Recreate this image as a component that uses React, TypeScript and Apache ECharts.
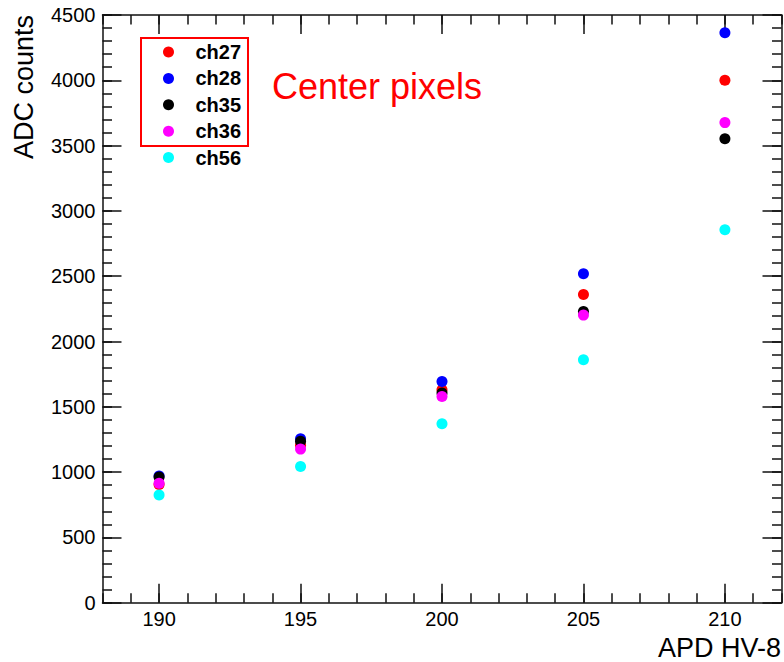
import React, { useEffect, useRef } from "react";
import * as echarts from "echarts";

// ---- data ----
const voltages = [190, 195, 200, 205, 210];
const ch27 = [905, 1205, 1630, 2360, 4000];
const ch28 = [970, 1255, 1694, 2518, 4364];
const ch35 = [962, 1236, 1605, 2229, 3553];
const ch36 = [915, 1176, 1579, 2202, 3676];
const ch56 = [824, 1043, 1370, 1860, 2855];

const seriesNames = ["ch27", "ch28", "ch35", "ch36", "ch56"];
const seriesValues = [ch27, ch28, ch35, ch36, ch56];
const seriesColors = ["#ff0000", "#0000ff", "#000000", "#ff00ff", "#00ffff"];

const xMin = 188;
const xMax = 212;
const xMajorTicks = [190, 195, 200, 205, 210];
const xMinorTicks = [188, 189, 190, 191, 192, 193, 194, 195, 196, 197, 198, 199, 200, 201, 202, 203, 204, 205, 206, 207, 208, 209, 210, 211, 212];
const yMin = 0;
const yMax = 4500;
const yMajorTicks = [0, 500, 1000, 1500, 2000, 2500, 3000, 3500, 4000, 4500];
const yMinorTicks: number[] = [];
for (let v = 0; v <= 4500; v += 100) yMinorTicks.push(v);

const xTitle = "APD HV-8";
const yTitle = "ADC counts";
const annotation = "Center pixels";

const FONT = "'Liberation Sans', Arial, Helvetica, sans-serif";
const lineStyle = { color: "#111", width: 1.5 };

const GRID = { left: 102.5, right: 2.5, top: 15, bottom: 59.3 };

const plain = (v: number) => String(v);

function xAxisDef(grid: number, pos: "bottom" | "top", ticks: number[], len: number, labels: boolean, line: boolean) {
  return {
    type: "value",
    gridIndex: grid,
    position: pos,
    min: xMin,
    max: xMax,
    axisLine: { show: line, onZero: false, lineStyle },
    axisTick: { show: true, inside: true, length: len, customValues: ticks, lineStyle },
    axisLabel: labels
      ? { show: true, customValues: ticks, formatter: plain, fontSize: 20, color: "#000", margin: 6, fontFamily: FONT }
      : { show: false },
    splitLine: { show: false },
  };
}

function yAxisDef(grid: number, pos: "left" | "right", ticks: number[], len: number, labels: boolean, line: boolean) {
  return {
    type: "value",
    gridIndex: grid,
    position: pos,
    min: yMin,
    max: yMax,
    axisLine: { show: line, onZero: false, lineStyle },
    axisTick: { show: true, inside: true, length: len, customValues: ticks, lineStyle },
    axisLabel: labels
      ? { show: true, customValues: ticks, formatter: plain, fontSize: 20, color: "#000", margin: 7, fontFamily: FONT }
      : { show: false },
    splitLine: { show: false },
  };
}

export default function App() {
  const ref = useRef<HTMLDivElement>(null);

  useEffect(() => {
    if (!ref.current) return;
    const chart = echarts.init(ref.current, undefined, { renderer: "svg" });
    const option = {
      animation: false,
      backgroundColor: "#ffffff",
      grid: [
        { ...GRID, containLabel: false },
        { ...GRID, containLabel: false },
      ],
      xAxis: [
        xAxisDef(0, "bottom", xMajorTicks, 19, true, true),
        xAxisDef(0, "top", xMajorTicks, 19, false, true),
        xAxisDef(1, "bottom", xMinorTicks, 9.5, false, false),
        xAxisDef(1, "top", xMinorTicks, 9.5, false, false),
      ],
      yAxis: [
        yAxisDef(0, "left", yMajorTicks, 19, true, true),
        yAxisDef(0, "right", yMajorTicks, 19, false, true),
        yAxisDef(1, "left", yMinorTicks, 9.5, false, false),
        yAxisDef(1, "right", yMinorTicks, 9.5, false, false),
      ],
      legend: {
        orient: "vertical",
        left: 163,
        top: 42,
        padding: 0,
        itemWidth: 44,
        itemHeight: 11,
        itemGap: 6.4,
        icon: "circle",
        data: seriesNames,
        textStyle: { fontSize: 20, fontWeight: "bold", color: "#000", fontFamily: FONT, lineHeight: 20 },
      },
      series: seriesNames.map((name, i) => ({
        name,
        type: "scatter",
        xAxisIndex: 0,
        yAxisIndex: 0,
        symbol: "circle",
        symbolSize: 11,
        itemStyle: { color: seriesColors[i], opacity: 1 },
        data: voltages.map((v, j) => [v, seriesValues[i][j]]),
      })),
      graphic: [
        {
          type: "rect",
          shape: { x: 141, y: 38, width: 107, height: 108 },
          style: { fill: "none", stroke: "#ff0000", lineWidth: 2 },
        },
        {
          type: "text",
          x: 272,
          y: 86.5,
          style: { text: annotation, fill: "#ff0000", fontSize: 36, fontFamily: FONT, align: "left", verticalAlign: "middle" },
        },
        {
          type: "text",
          x: 781,
          y: 647.5,
          style: { text: xTitle, fill: "#000", fontSize: 27, fontFamily: FONT, align: "right", verticalAlign: "middle" },
        },
        {
          type: "text",
          x: 24,
          y: 15,
          rotation: Math.PI / 2,
          style: { text: yTitle, fill: "#000", fontSize: 27, fontFamily: FONT, align: "right", verticalAlign: "middle" },
        },
      ],
    };
    chart.setOption(option as any);
    return () => chart.dispose();
  }, []);

  return (
    <div
      ref={ref}
      style={{ position: "fixed", left: 0, top: 0, width: 784, height: 662, background: "#fff" }}
    />
  );
}
